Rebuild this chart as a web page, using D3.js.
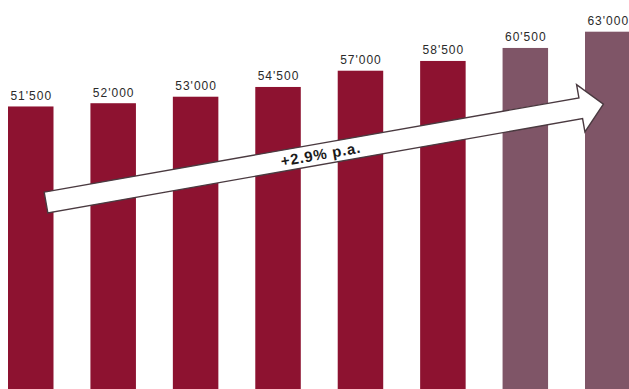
<!DOCTYPE html>
<html>
<head>
<meta charset="utf-8">
<script src="https://cdn.jsdelivr.net/npm/d3@7"></script>
<style>
  html, body { margin: 0; padding: 0; background: #fff; }
  svg { display: block; }
</style>
</head>
<body>
<div id="chart"></div>
<script>
'use strict'

// chart data
const years = ['y1', 'y2', 'y3', 'y4', 'y5', 'y6', 'y7', 'y8']
const values = [51500, 52000, 53000, 54500, 57000, 58500, 60500, 63000]
const labels = ["51'500", "52'000", "53'000", "54'500", "57'000", "58'500", "60'500", "63'000"]
const isForecast = [false, false, false, false, false, false, true, true]
const growthLabel = '+2.9% p.a.'

const width = 629, height = 389

const colors = { actual: '#8d1230', forecast: '#7f5567' }

const svg = d3.select('#chart')
    .append('svg')
    .attr('width', width)
    .attr('height', height)

const x = d3.scaleBand()
    .domain(years)
    .range([8, 630.5])
    .paddingInner(0.448)
    .paddingOuter(0)

// baseline lies below the visible area, bars get cut at the bottom edge
const y = d3.scaleLinear()
    .domain([0, 63000])
    .range([441.3, 31.7])

const bars = svg.append('g')
bars.selectAll('rect')
    .data(values)
    .enter()
    .append('rect')
    .attr('x', (d, i) => x(years[i]))
    .attr('y', d => y(d))
    .attr('width', x.bandwidth())
    .attr('height', d => height - y(d))
    .attr('fill', (d, i) => isForecast[i] ? colors.forecast : colors.actual)

svg.append('g')
    .selectAll('text')
    .data(values)
    .enter()
    .append('text')
    .attr('x', (d, i) => x(years[i]) + x.bandwidth() / 2 + 0.5)
    .attr('y', d => y(d) - 6.5)
    .attr('text-anchor', 'middle')
    .style('font-family', '"Liberation Sans", Arial, sans-serif')
    .style('font-size', '12px')
    .style('letter-spacing', '1px')
    .attr('fill', '#2a2a2a')
    .text((d, i) => labels[i])

// growth arrow, drawn along its own axis then rotated into place
const arrowLen = 566, shaftHalf = 10.5, headLen = 23, headHalf = 24
const arrowPts = [
    [0, -shaftHalf],
    [arrowLen - headLen, -shaftHalf],
    [arrowLen - headLen, -headHalf],
    [arrowLen, 0],
    [arrowLen - headLen, headHalf],
    [arrowLen - headLen, shaftHalf],
    [0, shaftHalf],
]

const arrow = svg.append('g')
    .attr('transform', 'translate(46,202.5) rotate(-10)')

arrow.append('path')
    .attr('d', d3.line()(arrowPts) + 'Z')
    .attr('fill', '#fff')
    .attr('stroke', '#4a3a40')
    .attr('stroke-width', 1.4)
    .attr('stroke-linejoin', 'miter')

arrow.append('text')
    .attr('x', 279)
    .attr('y', 5.5)
    .attr('text-anchor', 'middle')
    .style('font-family', '"Liberation Sans", Arial, sans-serif')
    .style('font-size', '15px')
    .style('font-weight', 'bold')
    .style('letter-spacing', '0.8px')
    .attr('fill', '#1a1a1a')
    .text(growthLabel)
</script>
</body>
</html>
